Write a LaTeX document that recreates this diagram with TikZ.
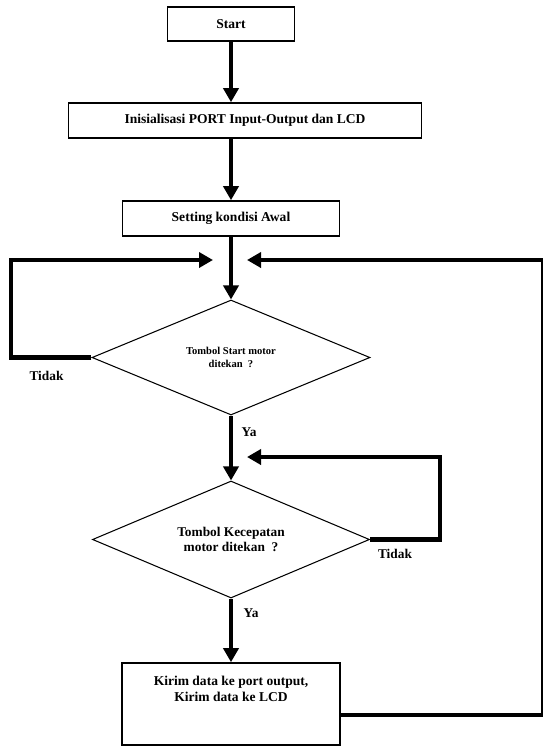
\documentclass[tikz,border=0pt]{standalone}
\usepackage{fontspec}
\setmainfont{Liberation Serif}
\usetikzlibrary{shapes.geometric, arrows.meta}
\tikzstyle{arrow} = [line width=2.4pt,-{Triangle[length=0.28cm,width=0.3cm]}]
\tikzset{process/.style={rectangle,draw,line width=0.9pt,inner sep=0pt,align=center,font=\fontsize{7.7}{9}\selectfont\bfseries},decision/.style={diamond,draw,line width=0.6pt,aspect=2.4,inner sep=0pt,align=center,font=\fontsize{7.6}{9}\selectfont\bfseries},tag/.style={draw=none,inner sep=0pt,font=\fontsize{7.6}{9}\selectfont\bfseries}}

\begin{document}
\begin{tikzpicture}[node distance=1.93cm]
    \useasboundingbox (0,0) rectangle (10.84,-14.92);

    \node [process, minimum width=2.54cm, minimum height=0.68cm] (start) at (4.62,-0.48) {Start};
    \node [process, below of = start, xshift = 0.28cm, minimum width=7.06cm, minimum height=0.7cm] (init) {Inisialisasi PORT Input-Output dan LCD};
    \node [process, below of = init, xshift = -0.28cm, node distance=1.96cm, minimum width=4.34cm, minimum height=0.7cm] (setting) {Setting kondisi Awal};

    \node [decision, below of = setting, node distance=2.78cm, minimum width=5.56cm, minimum height=2.3cm, font=\fontsize{6}{7}\selectfont\bfseries] (tombolstart) {Tombol Start motor\\ditekan~~?};
    \node [decision, below of = tombolstart, node distance=3.64cm, minimum width=5.54cm, minimum height=2.34cm] (tombolkec) {Tombol Kecepatan\\motor ditekan~~?};

    \node [process, below of = tombolkec, node distance=3.29cm, minimum width=4.36cm, minimum height=1.64cm, text depth=0.6cm] (kirim) {Kirim data ke port output,\\Kirim data ke LCD};

    % loop points
    \coordinate (joinL) at (4.26,-5.2);
    \coordinate (joinR) at (4.94,-5.2);
    \coordinate (loopL) at (0.22,-5.2);
    \coordinate (loopR) at (10.86,-5.2);
    \coordinate (joinK) at (4.94,-9.14);
    \coordinate (loopK) at (8.8,-9.14);

    \draw [arrow] (start) -- (start |- init.north);
    \draw [arrow] (init.south -| start) -- (setting);
    \draw [arrow] (setting) -- (tombolstart);
    \draw [arrow] (tombolstart) -- (tombolkec);
    \draw [arrow] (tombolkec) -- (kirim);

    \draw [arrow] (tombolstart.west) -| (loopL) -- (joinL);
    \draw [arrow] (tombolkec.east) -| (loopK) -- (joinK);
    \draw [arrow] ([yshift=-0.22cm]kirim.east) -| (loopR) -- (joinR);

    \node [tag, xshift = -0.9cm, yshift = -0.36cm] (tidak1) at (tombolstart.west) {Tidak};
    \node [tag, xshift = 0.36cm, yshift = -0.34cm] (ya1) at (tombolstart.south) {Ya};
    \node [tag, xshift = 0.5cm, yshift = -0.28cm] (tidak2) at (tombolkec.east) {Tidak};
    \node [tag, xshift = 0.4cm, yshift = -0.3cm] (ya2) at (tombolkec.south) {Ya};
\end{tikzpicture}
\end{document}
